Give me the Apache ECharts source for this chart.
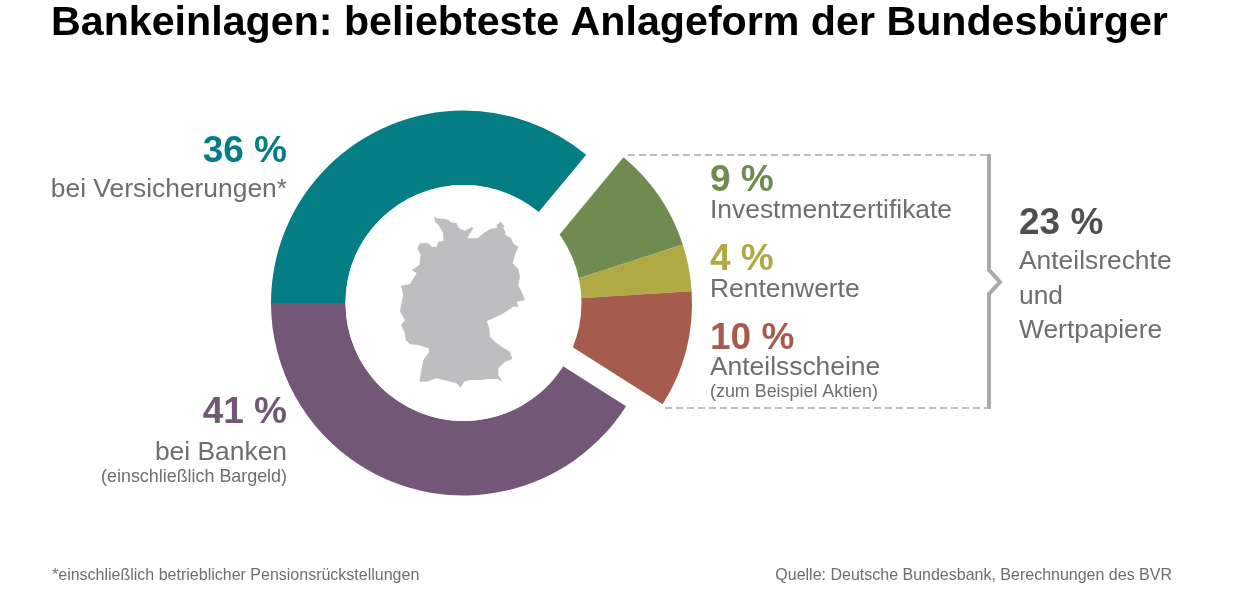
<!DOCTYPE html>
<html><head><meta charset="utf-8">
<style>html,body{margin:0;padding:0;background:#fff}#c{width:1241px;height:600px}</style>
<script src="https://cdn.jsdelivr.net/npm/echarts@6/dist/echarts.min.js"></script>
</head><body><div id="c"></div>
<script>
const titleText = 'Bankeinlagen: beliebteste Anlageform der Bundesbürger';
const mainNames = ['bei Versicherungen', 'Anteilsrechte und Wertpapiere', 'bei Banken'];
const mainValues = [36, 23, 41];
const subNames = ['Investmentzertifikate', 'Rentenwerte', 'Anteilsscheine'];
const subValues = [9, 4, 10];
const footLeft = '*einschließlich betrieblicher Pensionsrückstellungen';
const footRight = 'Quelle: Deutsche Bundesbank, Berechnungen des BVR';
const mapOutline = [[133,33],[140,40],[165,42],[175,45],[183,52],[200,55],[205,68],[225,78],[245,66],[250,70],[240,85],[232,100],[262,100],[285,82],[300,72],[322,68],[320,60],[332,50],[342,62],[340,72],[347,80],[345,90],[362,98],[372,118],[385,125],[375,150],[368,175],[385,192],[390,215],[385,240],[397,265],[405,285],[380,290],[385,305],[370,305],[340,325],[310,340],[290,348],[298,370],[300,395],[315,410],[335,425],[360,440],[367,462],[345,470],[325,490],[325,510],[338,530],[322,522],[300,522],[270,525],[240,525],[222,530],[212,548],[200,535],[170,527],[140,520],[110,530],[88,530],[95,490],[100,465],[118,440],[115,430],[85,420],[60,418],[47,405],[45,385],[33,360],[45,345],[30,320],[35,290],[40,270],[33,242],[60,237],[80,205],[66,195],[88,180],[92,150],[82,130],[90,115],[115,115],[125,125],[140,125],[145,110],[160,108],[160,85],[145,60],[135,50]];

const TEAL='#047d84', PURPLE='#735776', GREEN='#6f8b50', YELLOW='#b0aa45', RED='#a55c4c';
const GREY='#6d6e70', DARK='#4f4f51', LINE='#a9a9ae';
const FONT='"Liberation Sans", Arial, sans-serif';
const chart = echarts.init(document.getElementById('c'), null, {renderer:'canvas'});
const pct = v => v + ' %';
function t(text,x,y,size,color,align,weight){
  return {type:'text',z:120,silent:true,style:{text,x,y,align:align||'left',verticalAlign:'middle',
    font:(weight||'normal')+' '+size+'px '+FONT,fill:color}};
}
const restSub = 100 - subValues.reduce((a,b)=>a+b,0);
const startSub = 180 - (mainValues[0]/100)*360;
chart.setOption({
  animation:false,
  backgroundColor:'#fff',
  title:{text:titleText,left:46,top:-2,textStyle:{fontFamily:FONT,fontWeight:'bold',fontSize:41.2,color:'#000'}},
  series:[
    {type:'pie',z:2,silent:true,center:[463.5,303],radius:[118,192.5],startAngle:180,clockwise:true,
     label:{show:false},labelLine:{show:false},
     data:[
       {name:mainNames[0],value:mainValues[0],itemStyle:{color:TEAL}},
       {name:mainNames[1],value:mainValues[1],itemStyle:{color:'rgba(0,0,0,0)'}},
       {name:mainNames[2],value:mainValues[2],itemStyle:{color:PURPLE}}
     ]},
    {type:'pie',z:2,silent:true,center:[503,303],radius:[0,189],startAngle:startSub,clockwise:true,
     label:{show:false},labelLine:{show:false},
     data:[
       {name:subNames[0],value:subValues[0],itemStyle:{color:GREEN}},
       {name:subNames[1],value:subValues[1],itemStyle:{color:YELLOW}},
       {name:subNames[2],value:subValues[2],itemStyle:{color:RED}},
       {name:'',value:restSub,itemStyle:{color:'rgba(0,0,0,0)'}}
     ]}
  ],
  graphic:{elements:[
    {type:'circle',z:100,silent:true,shape:{cx:463.5,cy:303,r:118},style:{fill:'#fff'}},
    {type:'polygon',z:101,silent:true,shape:{points:mapOutline.map(p=>[p[0]/3+390,p[1]/3+205])},style:{fill:'#bdbec0'}},
    {type:'polyline',z:110,silent:true,shape:{points:[[628,155],[989,155]]},style:{stroke:LINE,lineWidth:1.5,lineDash:[7,4],fill:'none'}},
    {type:'polyline',z:110,silent:true,shape:{points:[[665,408],[989,408]]},style:{stroke:LINE,lineWidth:1.5,lineDash:[7,4],fill:'none'}},
    {type:'polyline',z:110,silent:true,shape:{points:[[989,154],[989,270],[1000,282],[989,294],[989,409]]},style:{stroke:LINE,lineWidth:4,fill:'none'}},
    t(pct(mainValues[0]),287,152,37,TEAL,'right','bold'),
    t('bei Versicherungen*',287,190,26.4,GREY,'right'),
    t(pct(mainValues[2]),287,413,37,PURPLE,'right','bold'),
    t('bei Banken',287,453,26.4,GREY,'right'),
    t('(einschließlich Bargeld)',287,477,17.9,GREY,'right'),
    t(pct(subValues[0]),710,181,37,GREEN,'left','bold'),
    t(subNames[0],710,211,26.4,GREY),
    t(pct(subValues[1]),710,260,37,YELLOW,'left','bold'),
    t(subNames[1],710,290,26.4,GREY),
    t(pct(subValues[2]),710,339,37,RED,'left','bold'),
    t(subNames[2],710,368,26.4,GREY),
    t('(zum Beispiel Aktien)',710,392,17.9,GREY),
    t(pct(mainValues[1]),1019,224,37,DARK,'left','bold'),
    t('Anteilsrechte',1019,262,26.4,GREY),
    t('und',1019,297,26.4,GREY),
    t('Wertpapiere',1019,331,26.4,GREY),
    t(footLeft,52,576,16,GREY),
    t(footRight,1172,576,16,GREY,'right')
  ]}
});
</script></body></html>
